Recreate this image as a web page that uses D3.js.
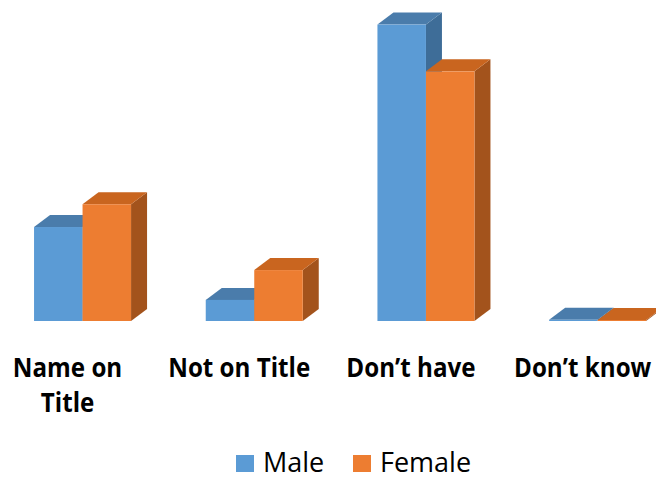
<!DOCTYPE html>
<html lang="en">
  <head>
    <meta charset="utf-8">
    <title>3D bars</title>
    <script src="https://d3js.org/d3.v7.min.js"></script>
    <style>
      body { margin: 0; background: #fff; }
    </style>
  </head>
<body>

<script>
// data (percent of each gender)
var categories = ["Name on Title", "Not on Title", "Don\u2019t have", "Don\u2019t know"];
var labelLines = [["Name on", "Title"], ["Not on Title"], ["Don\u2019t have"], ["Don\u2019t know"]];
var series = ["Male", "Female"];
var male = [22.7, 5.1, 71.6, 0.3];
var female = [28.2, 12.3, 60.3, 0.15];

var colors = {
    Male: { front: "#5b9bd5", top: "#4a7cab", side: "#3e6d98" },
    Female: { front: "#ed7d31", top: "#c9651f", side: "#a3531c" }
};

var W = 656, H = 479;
var baseY = 321;
var depthX = 16, depthY = -12;

var svg = d3.select("body")
    .append("svg")
    .attr("width", W)
    .attr("height", H);

var x = d3.scaleBand()
    .domain(categories)
    .range([-3.3, 683.5])
    .paddingInner(0.435)
    .paddingOuter(0.2175);

var xs = d3.scaleBand()
    .domain(series)
    .range([0, x.bandwidth()]);

var y = d3.scaleLinear()
    .domain([0, 100])
    .range([baseY, baseY - 414]);

var rows = [];
categories.forEach((c, i) => {
    rows.push({ cat: c, s: "Male", v: male[i] });
    rows.push({ cat: c, s: "Female", v: female[i] });
});

var bars = svg.selectAll(".bar")
    .data(rows)
    .join("g")
    .attr("class", "bar");

bars.each(function(d) {
    var g = d3.select(this);
    var x0 = x(d.cat) + xs(d.s);
    var x1 = x0 + xs.bandwidth();
    var yt = Math.min(y(d.v), baseY - 1);
    var c = colors[d.s];
    // side face
    g.append("path")
        .attr("d", `M${x1},${baseY}L${x1 + depthX},${baseY + depthY}L${x1 + depthX},${yt + depthY}L${x1},${yt}Z`)
        .attr("fill", c.side);
    // top face
    g.append("path")
        .attr("d", `M${x0},${yt}L${x0 + depthX},${yt + depthY}L${x1 + depthX},${yt + depthY}L${x1},${yt}Z`)
        .attr("fill", c.top);
    // front face
    g.append("rect")
        .attr("x", x0)
        .attr("y", yt)
        .attr("width", x1 - x0)
        .attr("height", baseY - yt)
        .attr("fill", c.front);
});

// category labels
var labels = svg.selectAll(".cat")
    .data(categories)
    .join("text")
    .attr("class", "cat")
    .attr("transform", d => `translate(${x(d) + x.bandwidth() / 2 - 15},377) scale(0.93,1)`)
    .attr("text-anchor", "middle")
    .style("font-family", "'Open Sans', sans-serif")
    .style("font-weight", 700)
    .style("font-size", "26px")
    .attr("fill", "#000");

labels.selectAll("tspan")
    .data((d, i) => labelLines[i])
    .join("tspan")
    .attr("x", 0)
    .attr("y", (d, i) => i * 35)
    .text(d => d);

// legend
var legendX = [236, 353];
var legend = svg.selectAll(".legend")
    .data(series)
    .join("g")
    .attr("class", "legend")
    .attr("transform", (d, i) => `translate(${legendX[i]},455)`);

legend.append("rect")
    .attr("width", 18)
    .attr("height", 17)
    .attr("fill", d => colors[d].front);

legend.append("text")
    .attr("x", 27)
    .attr("y", 17)
    .style("font-family", "'Open Sans', sans-serif")
    .style("font-size", "27px")
    .attr("fill", "#000")
    .text(d => d);
</script>
</body>
</html>
